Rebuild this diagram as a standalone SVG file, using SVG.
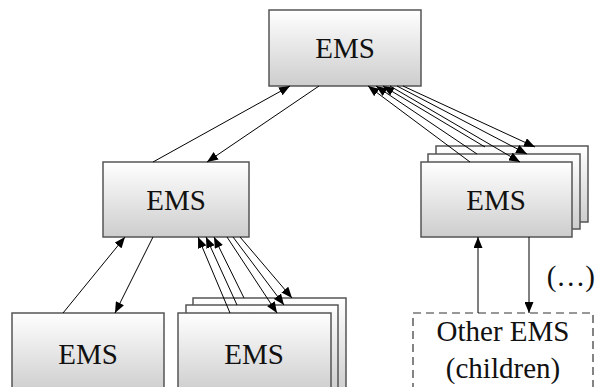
<svg xmlns="http://www.w3.org/2000/svg" width="596" height="387" viewBox="0 0 596 387">
  <defs>
    <linearGradient id="boxFill" x1="0" y1="0" x2="0" y2="1">
      <stop offset="0" stop-color="#ffffff"/>
      <stop offset="1" stop-color="#cdcdcd"/>
    </linearGradient>
    <marker id="arrow" viewBox="0 0 11 9" refX="11" refY="4.5" markerWidth="11" markerHeight="9" markerUnits="userSpaceOnUse" orient="auto">
      <path d="M0,0 L11,4.5 L0,9 Z" fill="#000"/>
    </marker>
    <style>
      .box { fill: url(#boxFill); stroke: #555; stroke-width: 1.5; }
      .dashed { fill: #fff; stroke: #333; stroke-width: 1.2; stroke-dasharray: 8 5; }
      .lbl { font-family: 'Liberation Serif', 'DejaVu Serif', 'Times New Roman', serif; font-size: 29px; fill: #111; text-anchor: middle; }
      .conn line { stroke: #000; stroke-width: 1; marker-end: url(#arrow); }
    </style>
  </defs>
  <rect width="596" height="387" fill="#fff"/>

  <g id="ems-root">
    <rect class="box" x="269" y="10" width="152" height="76"/>
    <text class="lbl" x="345" y="58">EMS</text>
  </g>

  <g id="ems-mid-left">
    <rect class="box" x="103" y="162" width="146" height="75"/>
    <text class="lbl" x="176" y="210">EMS</text>
  </g>

  <g id="ems-mid-right">
    <rect class="box" x="436" y="146" width="152" height="76"/>
    <rect class="box" x="428" y="154" width="152" height="75"/>
    <rect class="box" x="421" y="162" width="151" height="75"/>
    <text class="lbl" x="496" y="210">EMS</text>
  </g>

  <g id="ems-bottom-left">
    <rect class="box" x="12" y="313" width="152" height="80"/>
    <text class="lbl" x="88" y="364">EMS</text>
  </g>

  <g id="ems-bottom-mid">
    <rect class="box" x="193" y="298" width="153" height="95"/>
    <rect class="box" x="186" y="305" width="152" height="88"/>
    <rect class="box" x="178" y="313" width="153" height="80"/>
    <text class="lbl" x="254" y="364">EMS</text>
  </g>

  <g id="other-ems">
    <rect class="dashed" x="413" y="313" width="180" height="80"/>
    <text class="lbl" x="503" y="341">Other EMS</text>
    <text class="lbl" x="503" y="378">(children)</text>
  </g>

  <g id="ellipsis">
    <text class="lbl" x="595" y="286" style="text-anchor: end">(…)</text>
  </g>

  <g id="connectors" class="conn">
    <!-- root <-> mid-left -->
    <line x1="153" y1="162" x2="290" y2="86"/>
    <line x1="319" y1="86" x2="207" y2="162"/>
    <!-- root <-> mid-right stack -->
    <line x1="470" y1="162" x2="368" y2="86"/>
    <line x1="477" y1="154" x2="376" y2="86"/>
    <line x1="485" y1="147" x2="383" y2="86"/>
    <line x1="390" y1="86" x2="520" y2="162"/>
    <line x1="397" y1="86" x2="527" y2="154"/>
    <line x1="403" y1="86" x2="535" y2="147"/>
    <!-- mid-left <-> bottom-left -->
    <line x1="63" y1="313" x2="125" y2="237"/>
    <line x1="153" y1="237" x2="115" y2="313"/>
    <!-- mid-left <-> bottom-mid stack -->
    <line x1="230" y1="313" x2="198" y2="237"/>
    <line x1="237" y1="305" x2="206" y2="237"/>
    <line x1="244" y1="298" x2="214" y2="237"/>
    <line x1="227" y1="237" x2="277" y2="313"/>
    <line x1="233" y1="237" x2="284" y2="305"/>
    <line x1="240" y1="237" x2="292" y2="298"/>
    <!-- mid-right <-> other EMS -->
    <line x1="478" y1="313" x2="478" y2="237"/>
    <line x1="529" y1="237" x2="529" y2="313"/>
  </g>
</svg>
